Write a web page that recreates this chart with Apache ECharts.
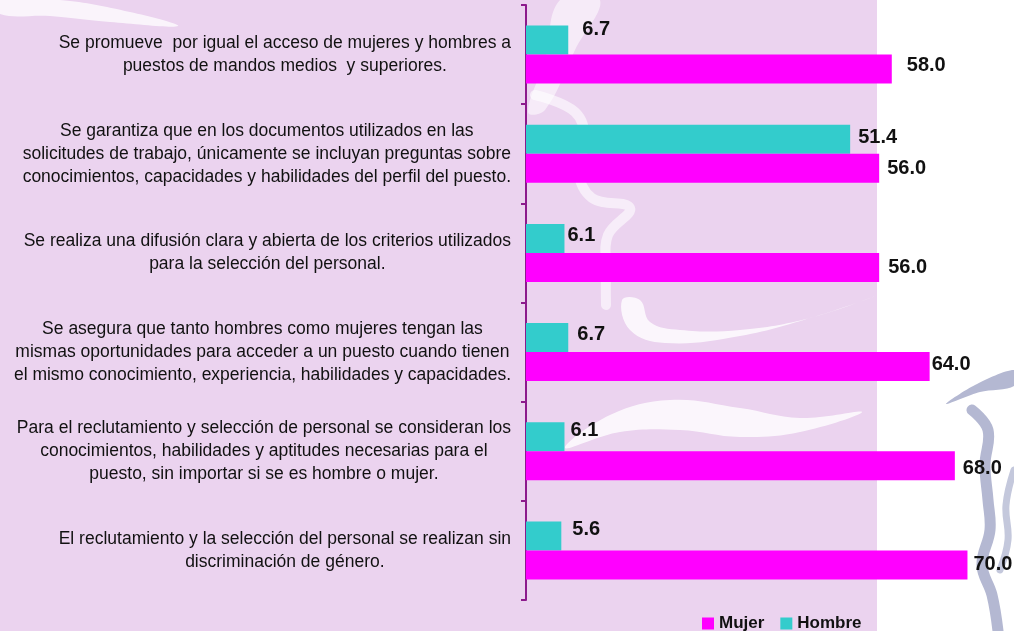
<!DOCTYPE html>
<html>
<head>
<meta charset="utf-8">
<script src="https://cdn.jsdelivr.net/npm/echarts@6/dist/echarts.min.js"></script>
<style>
  html, body { margin: 0; padding: 0; background: #ffffff; }
  #chart { width: 1014px; height: 631px; }
</style>
</head>
<body>
<div id="chart"></div>
<script>
// Statements, top to bottom
const categories = [
  'Se promueve  por igual el acceso de mujeres y hombres a\npuestos de mandos medios  y superiores.',
  'Se garantiza que en los documentos utilizados en las\nsolicitudes de trabajo, únicamente se incluyan preguntas sobre\nconocimientos, capacidades y habilidades del perfil del puesto.',
  'Se realiza una difusión clara y abierta de los criterios utilizados\npara la selección del personal.',
  'Se asegura que tanto hombres como mujeres tengan las\nmismas oportunidades para acceder a un puesto cuando tienen\nel mismo conocimiento, experiencia, habilidades y capacidades.',
  'Para el reclutamiento y selección de personal se consideran los\nconocimientos, habilidades y aptitudes necesarias para el\npuesto, sin importar si se es hombre o mujer.',
  'El reclutamiento y la selección del personal se realizan sin\ndiscriminación de género.'
];
const mujer = [58.0, 56.0, 56.0, 64.0, 68.0, 70.0];
const hombre = [6.7, 51.4, 6.1, 6.7, 6.1, 5.6];

// Value-label placement tweaks: [gap from bar end, vertical shift]
const mujerLabelPos = [[15, -4], [8, 0], [9, 0], [2, -2], [8, 3], [6, 0]];
const hombreLabelPos = [[14, -11], [8, -2], [3, -3], [9, -3], [6, -6], [11, -6]];

const FONT = '"Liberation Sans", Arial, sans-serif';
const PURPLE_BG = '#ebd3ef';

function withLabels(values, pos) {
  return values.map((v, i) => ({
    value: v,
    label: { distance: pos[i][0], offset: [0, pos[i][1]] }
  }));
}

// decorative background shapes
function swoosh(points, opacity) {
  return { type: 'polygon', z: -9, silent: true, shape: { points: points, smooth: 0.4 }, style: { fill: '#ffffff', opacity: opacity } };
}
function stroke(points, color, width, opacity) {
  return { type: 'polyline', z: -9, silent: true, shape: { points: points, smooth: 0.4 }, style: { stroke: color, lineWidth: width, fill: null, opacity: opacity, lineCap: 'round' } };
}

const chart = echarts.init(document.getElementById('chart'), null, { renderer: 'canvas' });

chart.setOption({
  backgroundColor: '#ffffff',
  animation: false,
  graphic: [
    { type: 'rect', z: -10, silent: true, shape: { x: 0, y: 0, width: 877, height: 631 }, style: { fill: PURPLE_BG } },
    swoosh([[0, 0], [60, 0], [130, 12], [178, 26], [110, 22], [50, 16], [0, 14]], 0.75),
    swoosh([[560, 0], [600, 0], [575, 50], [545, 110], [528, 112], [545, 60]], 0.55),
    stroke([[535, 95], [575, 112], [585, 140], [578, 170], [592, 198], [630, 208], [608, 235], [606, 270], [606, 305]], '#ffffff', 10, 0.6),
    swoosh([[622, 300], [630, 330], [665, 343], [740, 336], [820, 315], [878, 295], [810, 318], [740, 330], [680, 330], [650, 322], [640, 300]], 0.8),
    swoosh([[565, 448], [610, 415], [670, 400], [740, 408], [800, 418], [862, 412], [800, 432], [740, 437], [680, 430], [620, 432]], 0.8),
    { type: 'polygon', z: -9, silent: true, shape: { points: [[946, 404], [975, 385], [1014, 370], [1014, 386], [980, 392]], smooth: 0.3 }, style: { fill: '#b4b8d2' } },
    stroke([[972, 410], [988, 430], [985, 465], [988, 500], [990, 530], [982, 565], [992, 595], [998, 631]], '#b4b8d2', 11, 1),
    stroke([[1014, 470], [1006, 505], [1008, 540], [1000, 570]], '#c4c8dc', 7, 1)
  ],
  grid: { left: 526, right: 15, top: 5, bottom: 31, containLabel: false },
  legend: {
    data: ['Mujer', 'Hombre'],
    left: 697,
    top: 610,
    itemWidth: 12,
    itemHeight: 12,
    itemGap: 16,
    icon: 'rect',
    textStyle: { fontFamily: FONT, fontWeight: 'bold', fontSize: 17, color: '#111111' }
  },
  xAxis: {
    type: 'value',
    min: 0,
    max: 75,
    show: false
  },
  yAxis: {
    type: 'category',
    inverse: true,
    data: categories,
    axisLine: { show: true, lineStyle: { color: '#8c1a8c', width: 2 } },
    axisTick: { show: true, length: 5, lineStyle: { color: '#8c1a8c', width: 2 } },
    axisLabel: {
      interval: 0,
      margin: 15,
      formatter: v => v.split('\n').map(l => '{c|' + l + '}').join('\n'),
      rich: {
        c: { align: 'center', fontFamily: FONT, fontSize: 17.5, lineHeight: 23, color: '#111111' }
      }
    },
    splitLine: { show: false }
  },
  series: [
    {
      name: 'Hombre',
      type: 'bar',
      data: withLabels(hombre, hombreLabelPos),
      barWidth: 29,
      barGap: '0%',
      itemStyle: { color: '#33cccc' },
      label: {
        show: true,
        position: 'right',
        fontFamily: FONT,
        fontWeight: 'bold',
        fontSize: 20,
        color: '#111111',
        formatter: p => p.value.toFixed(1)
      }
    },
    {
      name: 'Mujer',
      type: 'bar',
      data: withLabels(mujer, mujerLabelPos),
      barWidth: 29,
      barGap: '0%',
      itemStyle: { color: '#ff00ff' },
      label: {
        show: true,
        position: 'right',
        fontFamily: FONT,
        fontWeight: 'bold',
        fontSize: 20,
        color: '#111111',
        formatter: p => p.value.toFixed(1)
      }
    }
  ]
});
</script>
</body>
</html>
